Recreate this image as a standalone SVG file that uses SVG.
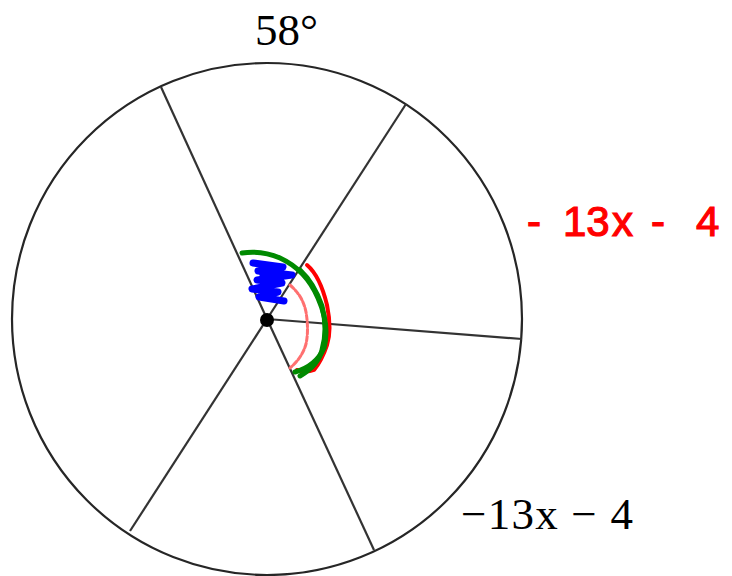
<svg xmlns="http://www.w3.org/2000/svg" width="732" height="576" viewBox="0 0 732 576">
<style>
.rim{fill:none;stroke:#262626;stroke-width:2.2}
.spoke{stroke:#333;stroke-width:2.2;fill:none}
.lbl{font-family:"Liberation Serif","Times New Roman",serif;fill:#000}
.hand{font-family:"Liberation Sans",Arial,sans-serif;fill:#ff0000;stroke:#ff0000;stroke-width:1.2}
.green{fill:none;stroke:#008a00;stroke-width:5;stroke-linecap:round;stroke-linejoin:round}
.red{fill:none;stroke:#ff0000;stroke-width:4;stroke-linecap:round;stroke-linejoin:round}
.pink{fill:none;stroke:#ff7070;stroke-width:3;stroke-linecap:round;stroke-dasharray:5 2}
.blue{fill:none;stroke:#0000ff;stroke-width:7;stroke-linecap:round;stroke-linejoin:round}
</style>
<rect width="732" height="576" fill="#fff"/>
<g id="circle">
  <ellipse class="rim" cx="267" cy="319" rx="255" ry="256"/>
</g>
<g id="connectors">
  <line class="spoke" x1="267" y1="319" x2="161" y2="87"/>
  <line class="spoke" x1="267" y1="319" x2="406" y2="104"/>
  <line class="spoke" x1="267" y1="319" x2="522" y2="339"/>
  <line class="spoke" x1="267" y1="319" x2="374" y2="550"/>
  <line class="spoke" x1="267" y1="319" x2="130" y2="531"/>
</g>
<g id="center">
  <circle cx="267" cy="320" r="7" fill="#000"/>
</g>
<g id="label-58">
  <text class="lbl" x="255" y="45" font-size="45">58°</text>
</g>
<g id="label-expr">
  <text class="lbl" x="461" y="529" font-size="45" textLength="172" lengthAdjust="spacing">−13x − 4</text>
</g>
<g id="annotations">
  <path class="pink" d="M290,285 Q303,296 306,312 Q309,330 306,344 Q302,358 290,368"/>
  <path class="red" d="M307,265 Q320,276 327,305 Q332,330 327,345 Q322,360 314,370 Q306,373 297,370"/>
  <path class="green" d="M242,253 Q262,250 280,258 Q306,270 318,298 Q330,325 324,348 Q316,366 295,372"/>
  <path class="green" d="M300,376 Q318,366 322,350 Q328,330 322,306 Q314,283 300,270"/>
  <path class="blue" d="M253,263 L283,267 L258,271 L292,275 L257,280 L282,283 L252,289 L278,292 L259,297 L284,301"/>
  <path class="blue" d="M262,268 L266,296"/>
  <text class="hand" y="236" font-size="42"><tspan x="527">-</tspan><tspan x="563">13</tspan><tspan x="612">x</tspan><tspan x="651">-</tspan><tspan x="696">4</tspan></text>
</g>
</svg>
